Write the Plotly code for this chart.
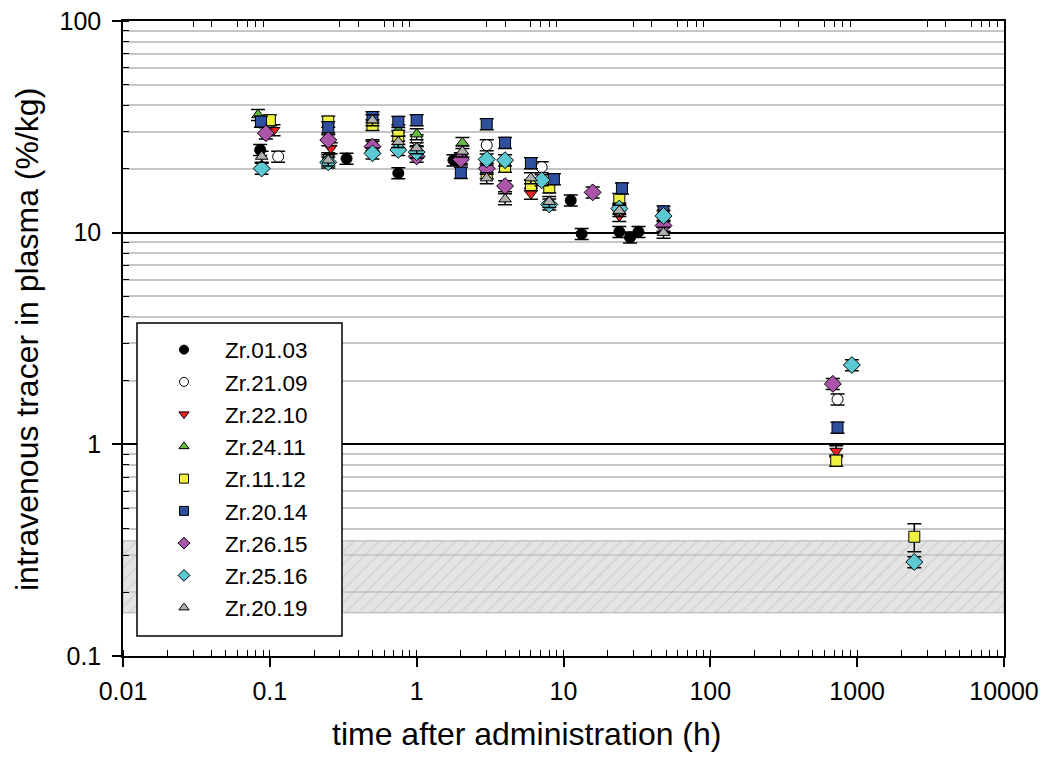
import math
import plotly.graph_objects as go

# ---------------- data ----------------
series_names = ["Zr.01.03", "Zr.21.09", "Zr.22.10", "Zr.24.11", "Zr.11.12",
                "Zr.20.14", "Zr.26.15", "Zr.25.16", "Zr.20.19"]

t_0103 = [0.086, 0.333, 0.75, 1.78, 11.2, 13.3, 24, 28.4, 32.4]
v_0103 = [24.6, 22.4, 19.1, 22.0, 14.2, 9.87, 10.1, 9.5, 10.1]

t_2109 = [0.114, 0.25, 0.5, 1.0, 3.0, 7.1, 735]
v_2109 = [22.9, 22.5, 25.9, 27.4, 25.9, 20.4, 1.63]

t_2210 = [0.106, 0.26, 2.0, 6.0, 24, 720]
v_2210 = [30.5, 25.1, 22.5, 15.3, 12.0, 0.93]

t_2411 = [0.083, 0.75, 1.0, 2.05]
v_2411 = [36.0, 30.5, 29.2, 26.6]

t_1112 = [0.1, 0.25, 0.5, 0.75, 3.0, 4.0, 6.0, 8.0, 24, 720, 2450]
v_1112 = [34.0, 33.5, 32.3, 28.7, 19.1, 20.5, 16.8, 16.4, 14.4, 0.838, 0.366]
e_1112 = [2.0, 2.0, 1.9, 1.7, 1.1, 1.2, 1.0, 1.0, 0.9, 0.05, 0.055]

t_2014 = [0.087, 0.25, 0.5, 0.75, 1.0, 2.0, 3.0, 4.0, 6.0, 8.6, 25, 48, 735]
v_2014 = [33.5, 31.5, 35.2, 33.4, 34.0, 19.2, 32.6, 26.6, 21.3, 17.9, 16.2, 12.6, 1.20]

t_2615 = [0.094, 0.25, 0.5, 1.0, 2.0, 3.0, 4.0, 15.8, 48, 683]
v_2615 = [29.5, 27.4, 25.5, 22.9, 22.2, 20.1, 16.6, 15.5, 10.8, 1.93]

t_2516 = [0.088, 0.25, 0.5, 0.75, 1.0, 3.0, 4.0, 7.1, 8.0, 24, 48, 920, 2450]
v_2516 = [20.1, 21.5, 23.7, 24.6, 24.0, 22.2, 22.0, 17.7, 13.6, 13.0, 12.0, 2.37, 0.278]

t_2019 = [0.088, 0.25, 0.5, 0.75, 1.0, 2.05, 3.0, 4.0, 6.0, 8.0, 24, 48]
v_2019 = [22.9, 22.0, 34.0, 26.9, 25.1, 24.2, 18.1, 14.4, 18.1, 14.0, 12.7, 10.0]

band_low, band_high = 0.16, 0.35

x_tickvals = [0.01, 0.1, 1, 10, 100, 1000, 10000]
x_ticktext = ["0.01", "0.1", "1", "10", "100", "1000", "10000"]
y_tickvals = [0.1, 1, 10, 100]
y_ticktext = ["0.1", "1", "10", "100"]
x_range_vals = [0.01, 10000]
y_range_vals = [0.1, 100]

x_title = "time after administration (h)"
y_title = "intravenous tracer in plasma (%/kg)"

# ---------------- styles ----------------
FONT = "Liberation Sans, Arial, sans-serif"
styles = {
    "Zr.01.03": ("circle", "#000000"),
    "Zr.21.09": ("circle", "#ffffff"),
    "Zr.22.10": ("triangle-down", "#ee2222"),
    "Zr.24.11": ("triangle-up", "#66bb44"),
    "Zr.11.12": ("square", "#f0f040"),
    "Zr.20.14": ("square", "#2f4f9f"),
    "Zr.26.15": ("diamond", "#aa55a8"),
    "Zr.25.16": ("diamond", "#5cc8d2"),
    "Zr.20.19": ("triangle-up", "#b0b0b0"),
}
data = {
    "Zr.01.03": (t_0103, v_0103, None),
    "Zr.21.09": (t_2109, v_2109, None),
    "Zr.22.10": (t_2210, v_2210, None),
    "Zr.24.11": (t_2411, v_2411, None),
    "Zr.11.12": (t_1112, v_1112, e_1112),
    "Zr.20.14": (t_2014, v_2014, None),
    "Zr.26.15": (t_2615, v_2615, None),
    "Zr.25.16": (t_2516, v_2516, None),
    "Zr.20.19": (t_2019, v_2019, None),
}

fig = go.Figure()

# hatched reference band
fig.add_trace(go.Scatter(
    x=[x_range_vals[0], x_range_vals[1], x_range_vals[1], x_range_vals[0], x_range_vals[0]],
    y=[band_low, band_low, band_high, band_high, band_low],
    mode="lines", fill="toself",
    fillcolor="rgba(200,200,200,0.5)",
    fillpattern=dict(shape="/", bgcolor="rgba(205,205,205,0.55)",
                     fgcolor="rgba(140,140,140,0.6)", size=9, solidity=0.12),
    line=dict(color="rgba(175,175,175,1)", width=1),
    showlegend=False, hoverinfo="skip"))

for name in series_names:
    sym, col = styles[name]
    tx, vy, err = data[name]
    if err is None:
        ey = dict(type="percent", value=6, color="black", thickness=1.5, width=7)
    else:
        ey = dict(type="data", array=err, color="black", thickness=1.5, width=7)
    size = 13 if sym == "diamond" else 11
    fig.add_trace(go.Scatter(
        x=tx, y=vy, mode="markers", name=name, showlegend=False,
        marker=dict(symbol=sym, color=col, size=size,
                    line=dict(color="black", width=1)),
        error_y=ey))

# legend entries (smaller symbols)
for name in series_names:
    sym, col = styles[name]
    fig.add_trace(go.Scatter(
        x=[None], y=[None], mode="markers", name=name, legendgroup=name,
        marker=dict(symbol=sym, color=col, size=9,
                    line=dict(color="black", width=1))))

# dummy traces to bring up mirrored top/right axes
fig.add_trace(go.Scatter(x=[None], y=[None], xaxis="x2", yaxis="y", showlegend=False))
fig.add_trace(go.Scatter(x=[None], y=[None], xaxis="x", yaxis="y2", showlegend=False))

xr = [math.log10(x_range_vals[0]), math.log10(x_range_vals[1])]
yr = [math.log10(y_range_vals[0]), math.log10(y_range_vals[1])]

fig.update_layout(
    width=1045, height=762,
    margin=dict(l=123, r=41, t=21, b=106, autoexpand=False),
    paper_bgcolor="white", plot_bgcolor="white",
    font=dict(family=FONT, size=25, color="black"),
    xaxis=dict(
        type="log", range=xr, tickmode="array", tickvals=x_tickvals, ticktext=x_ticktext,
        ticks="outside", ticklen=9, tickwidth=1.5, tickcolor="black", ticklabelstandoff=3,
        showline=True, linecolor="black", linewidth=1.5, showgrid=False, zeroline=False,
        automargin=False,
        minor=dict(ticks="inside", ticklen=6, tickwidth=1.2, tickcolor="black",
                   dtick="D1", showgrid=False),
        tickfont=dict(size=25),
    ),
    yaxis=dict(
        type="log", range=yr, tickmode="array", tickvals=y_tickvals, ticktext=y_ticktext,
        ticks="outside", ticklen=9, tickwidth=1.5, tickcolor="black", ticklabelstandoff=6,
        showline=True, linecolor="black", linewidth=1.5, automargin=False,
        showgrid=True, gridcolor="black", gridwidth=1.5, zeroline=False,
        minor=dict(ticks="inside", ticklen=6, tickwidth=1.2, tickcolor="black",
                   dtick="D1", showgrid=True, gridcolor="#c6c6c6", gridwidth=1.5),
        tickfont=dict(size=25),
    ),
    xaxis2=dict(
        type="log", range=xr, overlaying="x", side="top", anchor="y", automargin=False,
        showticklabels=False, ticks="", showline=True, linecolor="black", linewidth=1.5,
        showgrid=False, zeroline=False,
        minor=dict(ticks="inside", ticklen=6, tickwidth=1.2, tickcolor="black",
                   dtick="D1", showgrid=False),
    ),
    yaxis2=dict(
        type="log", range=yr, overlaying="y", side="right", anchor="x", automargin=False,
        showticklabels=False, ticks="", showline=True, linecolor="black", linewidth=1.5,
        showgrid=False, zeroline=False,
        minor=dict(ticks="inside", ticklen=6, tickwidth=1.2, tickcolor="black",
                   dtick="D1", showgrid=False),
    ),
    showlegend=True,
    legend=dict(
        x=(143 - 123) / 881, y=(656 - 328.5) / 635, xanchor="left", yanchor="top",
        bgcolor="rgba(0,0,0,0)", borderwidth=0,
        font=dict(family=FONT, size=22.5), tracegroupgap=0, itemwidth=72,
        traceorder="normal",
    ),
    shapes=[dict(type="rect", xref="paper", yref="paper",
                 x0=(137 - 123) / 881, x1=(342 - 123) / 881,
                 y0=(656 - 636) / 635, y1=(656 - 323) / 635,
                 line=dict(color="black", width=1.5), fillcolor="white", layer="above")],
    annotations=[
        dict(text=x_title, xref="paper", yref="paper",
             x=(526 - 123) / 881, y=(656 - 734) / 635, xanchor="center", yanchor="middle",
             showarrow=False, font=dict(size=32)),
        dict(text=y_title, xref="paper", yref="paper", textangle=-90,
             x=(27 - 123) / 881, y=(656 - 340) / 635, xanchor="center", yanchor="middle",
             showarrow=False, font=dict(size=32)),
    ],
)

fig.write_html("out.html")
